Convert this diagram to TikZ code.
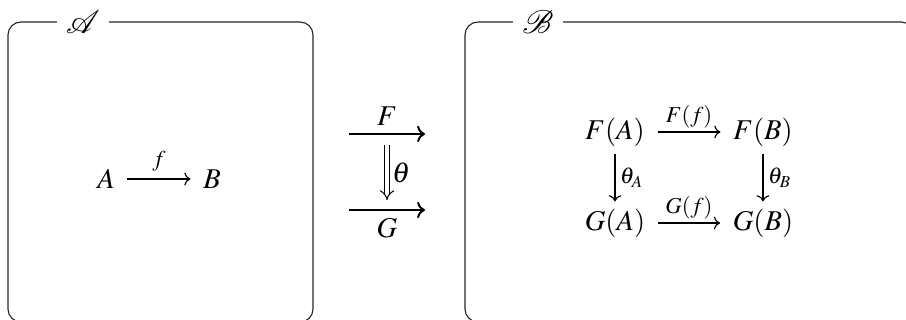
\documentclass[tikz,border=0pt]{standalone}
\usepackage{mathptmx}
\usepackage{mathrsfs}
\usetikzlibrary{arrows.meta}
\begin{document}
\begin{tikzpicture}[x=0.44pt,y=-0.44pt,
  font=\fontsize{12.6}{15}\selectfont,
  catbox/.style={draw=black!85, line width=0.5pt, rounded corners=5.7pt},
  cattitle/.style={fill=white, inner xsep=4pt, inner ysep=1pt, font=\fontsize{14}{16}\selectfont},
  obj/.style={inner xsep=5.4pt, inner ysep=3pt},
  mor/.style={->, line width=0.5pt},
  funct/.style={->, line width=0.85pt},
  nat/.style={double, double distance=1.8pt, line width=0.45pt, -{Implies}},
  lbl/.style={font=\fontsize{10}{12}\selectfont}
]
\useasboundingbox (0,0) rectangle (906,320);
\clip (0,0) rectangle (906,320);
% category boxes
\draw[catbox] (8,22) rectangle (313,322);
\draw[catbox] (465,22) rectangle (914,322);
\node[cattitle] (tA) at (83,22) {$\mathscr{A}$};
\node[cattitle] (tB) at (538,22) {$\mathscr{B}$};
% left diagram
\node[obj] (A) at (106,179) {$A$};
\node[obj] (B) at (212,179) {$B$};
\draw[mor] (A) -- node[lbl, above] {$f$} (B);
% functors and natural transformation
\coordinate (F1) at (349,134);
\coordinate (F2) at (425,134);
\coordinate (G1) at (349,210);
\coordinate (G2) at (425,210);
\coordinate (T1) at (387,145);
\coordinate (T2) at (387,200);
\draw[funct] (F1) -- node[above] {$F$} (F2);
\draw[funct] (G1) -- node[below] {$G$} (G2);
\draw[nat] (T1) -- node[right, inner xsep=2pt] {$\theta$} (T2);
% naturality square
\node[obj] (FA) at (615,132) {$F(A)$};
\node[obj] (FB) at (763,132) {$F(B)$};
\node[obj] (GA) at (615,223) {$G(A)$};
\node[obj] (GB) at (763,223) {$G(B)$};
\draw[mor] (FA) -- node[lbl, above, inner sep=1.5pt] {$F(f)$} (FB);
\draw[mor] (GA) -- node[lbl, above, inner sep=1.5pt] {$G(f)$} (GB);
\draw[mor] (FA) -- node[lbl, right, inner xsep=2pt] {$\theta_A$} (GA);
\draw[mor] (FB) -- node[lbl, right, inner xsep=2pt] {$\theta_B$} (GB);
\end{tikzpicture}
\end{document}
